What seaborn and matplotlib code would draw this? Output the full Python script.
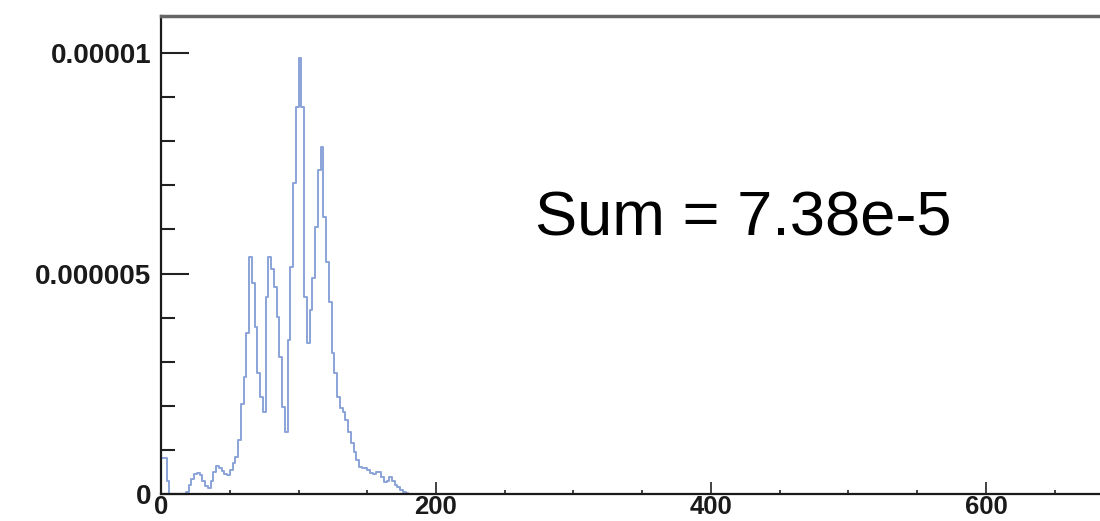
import numpy as np
import pandas as pd
import matplotlib
matplotlib.use("Agg")
import matplotlib.pyplot as plt
from matplotlib.ticker import FixedLocator, FixedFormatter, MultipleLocator
import seaborn as sns

# ── Data ─────────────────────────────────────────────────────────────────
# bin contents in units of 1e-6, bins are 2 wide starting at 0
bin_width = 2
values_e6 = [
    0.82, 0.82, 0.30, 0.00, 0.00, 0.00, 0.00, 0.00, 0.00, 0.05,   # 0-18
    0.20, 0.35, 0.45, 0.48, 0.42, 0.30, 0.18, 0.14, 0.30, 0.50,   # 20-38
    0.63, 0.58, 0.52, 0.45, 0.43, 0.55, 0.70, 0.84, 1.22, 2.05,   # 40-58
    2.66, 3.65, 5.38, 4.78, 3.79, 2.74, 2.21, 1.87, 4.47, 5.38,   # 60-78
    5.10, 4.70, 4.02, 3.11, 1.98, 1.41, 3.49, 5.15, 7.05, 8.78,   # 80-98
    9.88, 8.78, 4.47, 3.42, 4.17, 4.90, 6.06, 7.35, 7.88, 6.29,   # 100-118
    5.27, 4.36, 3.20, 2.74, 2.21, 1.95, 1.85, 1.68, 1.40, 1.16,   # 120-138
    0.95, 0.77, 0.62, 0.60, 0.58, 0.55, 0.47, 0.45, 0.51, 0.50,   # 140-158
    0.38, 0.28, 0.30, 0.39, 0.30, 0.20, 0.15, 0.10, 0.05, 0.03,   # 160-178
]
# histogram keeps running at zero up to ~626
empty_tail = [0.0] * 223

y_ticks = [0, 0.000005, 0.00001]
y_tick_labels = ["0", "0.000005", "0.00001"]
x_ticks = [0, 200, 400, 600]
x_tick_labels = ["0", "200", "400", "600"]
sum_text = "Sum = 7.38e-5"

# ── Build histogram input ────────────────────────────────────────────────
heights = np.array(values_e6 + empty_tail) * 1e-6
n_bins = len(heights)
df = pd.DataFrame({
    "x": np.arange(n_bins) * bin_width + bin_width / 2,
    "w": heights,
})

# ── Plot ─────────────────────────────────────────────────────────────────
sns.set_style("white")
plt.rcParams["font.family"] = ["Liberation Sans", "DejaVu Sans"]

fig = plt.figure(figsize=(11, 5.21), dpi=100)
ax = fig.add_axes([0.1464, 0.0518, 0.8536, 0.9175])

sns.histplot(data=df, x="x", weights="w", binwidth=bin_width,
             binrange=(0, n_bins * bin_width), element="step",
             fill=False, color="#8aa3d8", linewidth=1.4, ax=ax)

ax.set_xlim(0, 683)
ax.set_ylim(0, 1.084e-5)
ax.set_xlabel("")
ax.set_ylabel("")

ax.yaxis.set_major_locator(FixedLocator(y_ticks))
ax.yaxis.set_major_formatter(FixedFormatter(y_tick_labels))
ax.yaxis.set_minor_locator(MultipleLocator(0.000001))
ax.xaxis.set_major_locator(FixedLocator(x_ticks))
ax.xaxis.set_major_formatter(FixedFormatter(x_tick_labels))
ax.xaxis.set_minor_locator(MultipleLocator(50))

ax.tick_params(axis="y", which="major", direction="in", length=20, width=1.5,
               color="#222222", pad=7, labelsize=20, left=True)
ax.tick_params(axis="y", which="minor", direction="in", length=10, width=1.5,
               color="#222222", left=True)
ax.tick_params(axis="x", which="major", direction="in", length=8.5, width=1.2,
               color="#222222", pad=0.5, labelsize=18.5, bottom=True)
ax.tick_params(axis="x", which="minor", direction="in", length=3, width=1.2,
               color="#222222", bottom=True)
for lab in ax.get_xticklabels() + ax.get_yticklabels():
    lab.set_fontweight("bold")
    lab.set_color("#1a1a1a")

ax.spines["right"].set_visible(False)
ax.spines["top"].set_color("#666666")
ax.spines["top"].set_linewidth(2.5)
for side in ["left", "bottom"]:
    ax.spines[side].set_color("#1a1a1a")
    ax.spines[side].set_linewidth(1.6)

fig.text(535 / 1100, 1 - 235 / 521, sum_text, fontsize=45.5,
         ha="left", va="baseline", color="black")

fig.savefig("out.png", dpi=100)
